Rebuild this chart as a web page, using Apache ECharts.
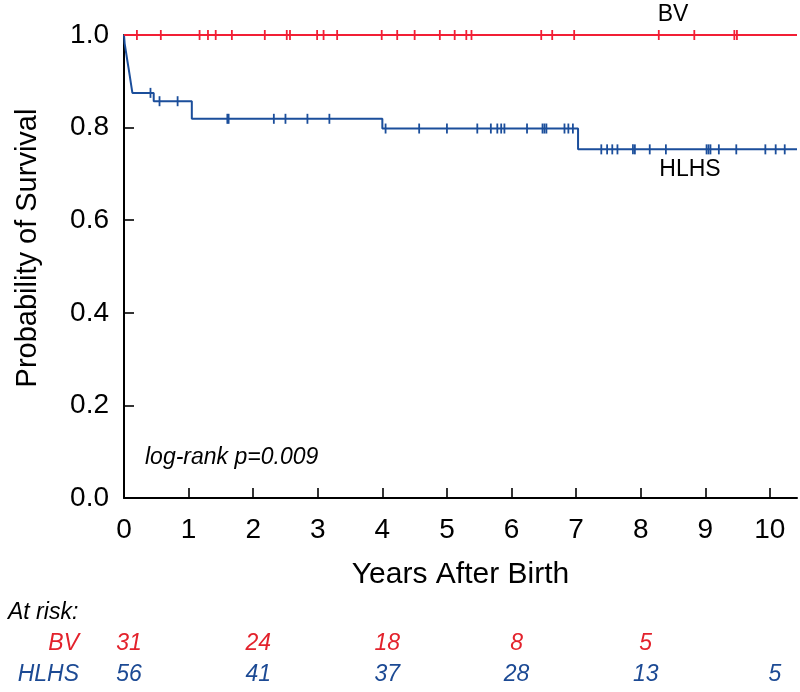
<!DOCTYPE html>
<html>
<head>
<meta charset="utf-8">
<script src="https://cdn.jsdelivr.net/npm/echarts@6/dist/echarts.min.js"></script>
<style>
html,body{margin:0;padding:0;background:#fff;}
#chart{width:800px;height:692px;}
</style>
</head>
<body>
<div id="chart"></div>
<script>
// ---- data ----
const xTickValues = [0, 1, 2, 3, 4, 5, 6, 7, 8, 9, 10];
const xMax = 10.42;
const followUpEnd = 10.42;

const bvEventTimes = [0];
const bvSurvival = [1.0];
const bvCensorTimes = [0.20, 0.57, 1.17, 1.30, 1.42, 1.67, 2.18, 2.52, 2.57, 2.99, 3.09, 3.30,
  3.99, 4.23, 4.50, 4.89, 5.12, 5.30, 5.38, 6.46, 6.63, 6.97, 8.28, 8.83, 9.45, 9.49];

const hlhsEventTimes = [0, 0.01, 0.03, 0.05, 0.07, 0.09, 0.11, 0.13, 0.46, 1.05, 4.00, 7.03];
const hlhsSurvival = [1.0, 0.982, 0.964, 0.946, 0.929, 0.911, 0.893, 0.875, 0.857, 0.819, 0.798, 0.753];
const hlhsCensorTimes = [0.41, 0.55, 0.83, 1.60, 1.62, 2.32, 2.50, 2.84, 3.18, 4.05, 4.57, 5.00,
  5.47, 5.68, 5.78, 5.84, 5.89, 6.24, 6.48, 6.51, 6.54, 6.82, 6.88, 6.95, 7.39, 7.48, 7.56, 7.64,
  7.88, 7.91, 8.14, 8.39, 9.02, 9.05, 9.08, 9.21, 9.48, 9.93, 10.09, 10.23];

const groups = ['BV', 'HLHS'];
const atRiskYears = [0, 2, 4, 6, 8, 10];
const bvAtRisk = [31, 24, 18, 8, 5, null];
const hlhsAtRisk = [56, 41, 37, 28, 13, 5];

// ---- styling ----
const RED = '#f21f35';
const BLUE = '#1b4e9b';
const RED_TXT = '#e3222c';
const BLUE_TXT = '#1c4a94';
const FONT = '"Liberation Sans", Arial, Helvetica, sans-serif';

function curve(times, surv, end) {
  const d = times.map((t, i) => [t, surv[i]]);
  d.push([end, surv[surv.length - 1]]);
  return d;
}
function survAt(times, surv, t) {
  let s = surv[0];
  for (let i = 0; i < times.length; i++) if (times[i] <= t) s = surv[i];
  return s;
}
function censorPts(ct, times, surv) {
  return ct.map(t => [t, survAt(times, surv, t)]);
}
function riskPts(vals, group) {
  const out = [];
  atRiskYears.forEach((y, i) => { if (vals[i] != null) out.push([y, group, vals[i]]); });
  return out;
}

const chart = echarts.init(document.getElementById('chart'), null, {renderer: 'canvas'});
const option = {
  animation: false,
  backgroundColor: '#fff',
  textStyle: {fontFamily: FONT},
  grid: [
    {left: 124, right: 3, top: 35, bottom: 194},
    {left: 124, right: 3, top: 628, height: 62}
  ],
  xAxis: [
    {
      type: 'value', gridIndex: 0, min: 0, max: xMax,
      name: 'Years After Birth', nameLocation: 'middle', nameGap: 62,
      nameTextStyle: {fontSize: 30, color: '#000', fontFamily: FONT},
      axisLine: {show: true, onZero: false, lineStyle: {color: '#000', width: 2}},
      axisTick: {show: true, inside: true, length: 10, customValues: xTickValues, lineStyle: {color: '#000', width: 1.6}},
      axisLabel: {show: true, customValues: xTickValues, margin: 18, fontSize: 28, color: '#000', fontFamily: FONT},
      splitLine: {show: false}
    },
    {type: 'value', gridIndex: 1, min: 0, max: xMax, show: false}
  ],
  yAxis: [
    {
      type: 'value', gridIndex: 0, min: 0, max: 1, interval: 0.2,
      axisLine: {show: true, lineStyle: {color: '#000', width: 2}},
      axisTick: {show: true, inside: true, length: 10, lineStyle: {color: '#000', width: 1.6}},
      axisLabel: {margin: 15, fontSize: 28, color: '#000', fontFamily: FONT, formatter: v => v.toFixed(1)},
      splitLine: {show: false}
    },
    {
      type: 'category', gridIndex: 1, data: groups, inverse: true,
      axisLine: {show: false}, axisTick: {show: false}, splitLine: {show: false},
      axisLabel: {
        margin: 45, fontSize: 23, fontStyle: 'italic',
        formatter: v => '{' + v + '|' + v + '}',
        rich: {
          BV: {color: RED_TXT, fontSize: 23, fontStyle: 'italic', fontFamily: FONT},
          HLHS: {color: BLUE_TXT, fontSize: 23, fontStyle: 'italic', fontFamily: FONT}
        }
      }
    }
  ],
  series: [
    {
      name: 'HLHS', type: 'line', step: 'end', xAxisIndex: 0, yAxisIndex: 0,
      data: curve(hlhsEventTimes, hlhsSurvival, followUpEnd),
      showSymbol: false, symbol: 'none',
      lineStyle: {color: BLUE, width: 2}, z: 3
    },
    {
      name: 'BV', type: 'line', step: 'end', xAxisIndex: 0, yAxisIndex: 0,
      data: curve(bvEventTimes, bvSurvival, followUpEnd),
      showSymbol: false, symbol: 'none', clip: false,
      lineStyle: {color: RED, width: 2}, z: 4
    },
    {
      name: 'HLHS censored', type: 'scatter', xAxisIndex: 0, yAxisIndex: 0,
      data: censorPts(hlhsCensorTimes, hlhsEventTimes, hlhsSurvival),
      symbol: 'rect', symbolSize: [1.8, 10], itemStyle: {color: BLUE, opacity: 1}, z: 5, silent: true
    },
    {
      name: 'BV censored', type: 'scatter', xAxisIndex: 0, yAxisIndex: 0,
      data: censorPts(bvCensorTimes, bvEventTimes, bvSurvival),
      symbol: 'rect', symbolSize: [1.8, 10], itemStyle: {color: RED, opacity: 1}, z: 6, silent: true, clip: false
    },
    {
      name: 'BV at risk', type: 'scatter', xAxisIndex: 1, yAxisIndex: 1,
      data: riskPts(bvAtRisk, 'BV'), symbolSize: 1, itemStyle: {color: 'rgba(0,0,0,0)', opacity: 1}, silent: true,
      label: {show: true, position: 'inside', offset: [5, 0], formatter: p => String(p.value[2]),
        color: RED_TXT, fontSize: 23, fontStyle: 'italic', fontFamily: FONT}
    },
    {
      name: 'HLHS at risk', type: 'scatter', xAxisIndex: 1, yAxisIndex: 1,
      data: riskPts(hlhsAtRisk, 'HLHS'), symbolSize: 1, itemStyle: {color: 'rgba(0,0,0,0)', opacity: 1}, silent: true,
      label: {show: true, position: 'inside', offset: [5, 0], formatter: p => String(p.value[2]),
        color: BLUE_TXT, fontSize: 23, fontStyle: 'italic', fontFamily: FONT}
    }
  ],
  graphic: [
    {type: 'text', x: 28, y: 248, rotation: Math.PI / 2,
      style: {text: 'Probability of Survival', font: '29px ' + FONT, fill: '#000', align: 'center', verticalAlign: 'middle'}},
    {type: 'text', x: 673, y: 15,
      style: {text: 'BV', font: '23px ' + FONT, fill: '#000', align: 'center', verticalAlign: 'middle'}},
    {type: 'text', x: 690, y: 170,
      style: {text: 'HLHS', font: '23px ' + FONT, fill: '#000', align: 'center', verticalAlign: 'middle'}},
    {type: 'text', x: 145, y: 458,
      style: {text: 'log-rank p=0.009', font: 'italic 23px ' + FONT, fill: '#000', align: 'left', verticalAlign: 'middle'}},
    {type: 'text', x: 8, y: 613,
      style: {text: 'At risk:', font: 'italic 23px ' + FONT, fill: '#000', align: 'left', verticalAlign: 'middle'}}
  ]
};
chart.setOption(option);
</script>
</body>
</html>
